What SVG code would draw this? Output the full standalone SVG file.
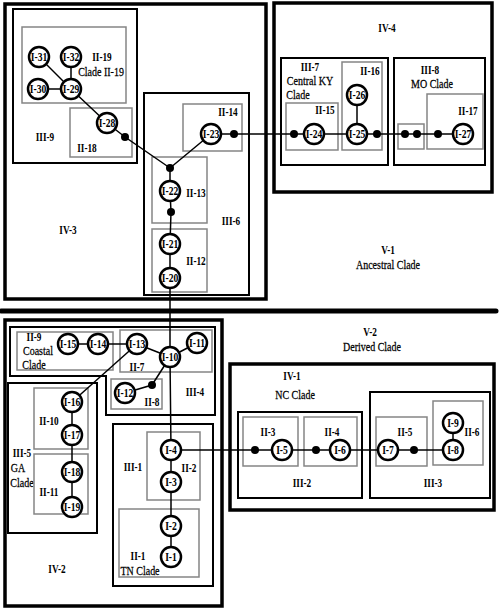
<svg xmlns="http://www.w3.org/2000/svg" width="500" height="610" viewBox="0 0 500 610">
<style>
.b4{fill:none;stroke:#000;stroke-width:3.5}
.b3{fill:none;stroke:#000;stroke-width:2}
.g2{fill:none;stroke:#858585;stroke-width:1.5}
.n circle{fill:#fff;stroke:#000;stroke-width:2.5}
.n text,.l{font-family:"Liberation Serif","Times New Roman",serif;font-weight:bold;font-size:12px;text-anchor:middle;fill:#000}
.c{font-family:"Liberation Serif","Times New Roman",serif;font-size:12.5px;text-anchor:middle;fill:#000;stroke:#000;stroke-width:0.25}
.e{stroke:#000;stroke-width:1.5;fill:none}
.d{fill:#000}
</style>
<rect width="500" height="610" fill="#fff"/>

<!-- containers -->
<g id="IV-3"><rect class="b4" x="5" y="4" width="261" height="295"/><text class="l" transform="translate(68,234) scale(.77,1)">IV-3</text></g>
<g id="III-9"><rect class="b3" x="13" y="9" width="124" height="154"/><text class="l" transform="translate(45,141) scale(.77,1)">III-9</text></g>
<g id="II-19"><rect class="g2" x="22" y="27" width="104" height="76"/><text class="l" transform="translate(102,61) scale(.77,1)">II-19</text><text class="c" transform="translate(101,76) scale(.8,1)">Clade II-19</text></g>
<g id="II-18"><rect class="g2" x="70" y="108" width="62" height="49"/><text class="l" transform="translate(87,152) scale(.77,1)">II-18</text></g>
<g id="III-6"><rect class="b3" x="144" y="93" width="105" height="202"/><text class="l" transform="translate(231,225) scale(.77,1)">III-6</text></g>
<g id="II-14"><rect class="g2" x="183" y="104" width="59" height="47"/><text class="l" transform="translate(228,116) scale(.77,1)">II-14</text></g>
<g id="II-13"><rect class="g2" x="152" y="157" width="55" height="66"/><text class="l" transform="translate(196,197) scale(.77,1)">II-13</text></g>
<g id="II-12"><rect class="g2" x="152" y="229" width="55" height="63"/><text class="l" transform="translate(196,265) scale(.77,1)">II-12</text></g>

<g id="IV-4"><rect class="b4" x="274" y="3" width="218" height="189"/><text class="l" transform="translate(387,32) scale(.77,1)">IV-4</text></g>
<g id="III-7"><rect class="b3" x="281" y="58" width="107" height="107"/><text class="l" transform="translate(310,71) scale(.77,1)">III-7</text><text class="c" transform="translate(310,85) scale(.8,1)">Central KY</text><text class="c" transform="translate(298,99) scale(.8,1)">Clade</text></g>
<g id="II-15"><rect class="g2" x="286" y="103" width="52" height="47"/><text class="l" transform="translate(325,114) scale(.77,1)">II-15</text></g>
<g id="II-16"><rect class="g2" x="342" y="62" width="40" height="88"/><text class="l" transform="translate(370,75) scale(.77,1)">II-16</text></g>
<g id="III-8"><rect class="b3" x="394" y="58" width="91" height="107"/><text class="l" transform="translate(430,74) scale(.77,1)">III-8</text><text class="c" transform="translate(432,88) scale(.8,1)">MO Clade</text></g>
<g id="III-8-sub"><rect class="g2" x="398" y="124" width="26" height="25"/></g>
<g id="II-17"><rect class="g2" x="427" y="94" width="56" height="55"/><text class="l" transform="translate(468,115) scale(.77,1)">II-17</text></g>

<g id="V-1"><text class="l" transform="translate(388,254) scale(.77,1)">V-1</text><text class="c" transform="translate(388,269) scale(.8,1)">Ancestral Clade</text></g>
<line x1="1" y1="311" x2="496" y2="311" stroke="#000" stroke-width="5" stroke-linecap="round"/>
<g id="V-2"><text class="l" transform="translate(370,336) scale(.77,1)">V-2</text><text class="c" transform="translate(372,351) scale(.8,1)">Derived Clade</text></g>

<g id="IV-2"><rect class="b4" x="5" y="320" width="217" height="286"/><text class="l" transform="translate(57,573) scale(.77,1)">IV-2</text></g>
<g id="III-4"><path class="b3" d="M10,327H215V415H106V376H10Z"/><text class="l" transform="translate(195,396) scale(.77,1)">III-4</text></g>
<g id="II-9"><rect class="g2" x="17" y="332" width="96" height="38"/><text class="l" transform="translate(34,341) scale(.77,1)">II-9</text><text class="c" transform="translate(38,355) scale(.8,1)">Coastal</text><text class="c" transform="translate(34,369) scale(.8,1)">Clade</text></g>
<g id="II-7"><rect class="g2" x="120" y="330" width="92" height="42"/><text class="l" transform="translate(137,371) scale(.77,1)">II-7</text></g>
<g id="II-8"><rect class="g2" x="111" y="379" width="51" height="30"/><text class="l" transform="translate(152,406) scale(.77,1)">II-8</text></g>
<g id="III-5"><rect class="b3" x="8" y="383" width="89" height="150"/><text class="l" transform="translate(22,457) scale(.77,1)">III-5</text><text class="c" transform="translate(18,472) scale(.8,1)">GA</text><text class="c" transform="translate(22,487) scale(.8,1)">Clade</text></g>
<g id="II-10"><rect class="g2" x="34" y="388" width="54" height="61"/><text class="l" transform="translate(49,425) scale(.77,1)">II-10</text></g>
<g id="II-11"><rect class="g2" x="34" y="454" width="54" height="60"/><text class="l" transform="translate(49,496) scale(.77,1)">II-11</text></g>
<g id="III-1"><rect class="b3" x="113" y="424" width="100" height="162"/><text class="l" transform="translate(133,471) scale(.77,1)">III-1</text></g>
<g id="II-2"><rect class="g2" x="147" y="432" width="53" height="68"/><text class="l" transform="translate(189,472) scale(.77,1)">II-2</text></g>
<g id="II-1"><rect class="g2" x="119" y="509" width="80" height="68"/><text class="l" transform="translate(138,560) scale(.77,1)">II-1</text><text class="c" transform="translate(140,575) scale(.8,1)">TN Clade</text></g>

<g id="IV-1"><rect class="b4" x="230" y="364" width="264" height="146"/><text class="l" transform="translate(292,380) scale(.77,1)">IV-1</text><text class="c" transform="translate(295,399) scale(.8,1)">NC Clade</text></g>
<g id="III-2"><rect class="b3" x="238" y="412" width="124" height="86"/><text class="l" transform="translate(302,487) scale(.77,1)">III-2</text></g>
<g id="III-3"><rect class="b3" x="370" y="392" width="120" height="106"/><text class="l" transform="translate(433,487) scale(.77,1)">III-3</text></g>
<g id="II-3"><rect class="g2" x="243" y="417" width="55" height="49"/><text class="l" transform="translate(268,436) scale(.77,1)">II-3</text></g>
<g id="II-4"><rect class="g2" x="304" y="417" width="53" height="49"/><text class="l" transform="translate(332,436) scale(.77,1)">II-4</text></g>
<g id="II-5"><rect class="g2" x="376" y="417" width="51" height="49"/><text class="l" transform="translate(405,436) scale(.77,1)">II-5</text></g>
<g id="II-6"><rect class="g2" x="433" y="401" width="50" height="64"/><text class="l" transform="translate(472,436) scale(.77,1)">II-6</text></g>

<!-- connectors -->
<g id="connectors" class="e">
<line x1="39" y1="57" x2="71" y2="89"/>
<line x1="71" y1="57" x2="71" y2="89"/>
<line x1="38" y1="89" x2="71" y2="89"/>
<polyline points="71,89 107,123 125,137 170,168"/>
<polyline points="211,134 170,168 170,191 171,212 170,244 170,278 170,357 171,450"/>
<polyline points="211,134 463,134"/>
<line x1="357" y1="95" x2="357" y2="134"/>
<line x1="68" y1="344" x2="137" y2="344"/>
<line x1="137" y1="344" x2="170" y2="357"/>
<line x1="170" y1="357" x2="197" y2="343"/>
<polyline points="170,357 152,385 125,393"/>
<line x1="137" y1="344" x2="72" y2="402"/>
<line x1="72" y1="402" x2="72" y2="507"/>
<line x1="171" y1="450" x2="171" y2="557"/>
<line x1="171" y1="450" x2="453" y2="450"/>
<line x1="453" y1="423" x2="453" y2="450"/>
</g>

<g id="junctions" class="d">
<circle cx="125" cy="137" r="4"/>
<circle cx="170" cy="168" r="4"/>
<circle cx="171" cy="212" r="4"/>
<circle cx="234" cy="134" r="4"/>
<circle cx="294" cy="134" r="4"/>
<circle cx="377" cy="134" r="4"/>
<circle cx="405" cy="134" r="4"/>
<circle cx="417" cy="134" r="4"/>
<circle cx="438" cy="134" r="4"/>
<circle cx="152" cy="385" r="4"/>
<circle cx="255" cy="450" r="4"/>
<circle cx="316" cy="450" r="4"/>
<circle cx="414" cy="450" r="4"/>
</g>

<!-- haplotype nodes -->
<g id="I-31" class="n"><circle cx="39" cy="57" r="10"/><text transform="translate(39,61) scale(.8,1)">I-31</text></g>
<g id="I-32" class="n"><circle cx="71" cy="57" r="10"/><text transform="translate(71,61) scale(.8,1)">I-32</text></g>
<g id="I-30" class="n"><circle cx="38" cy="89" r="10"/><text transform="translate(38,93) scale(.8,1)">I-30</text></g>
<g id="I-29" class="n"><circle cx="71" cy="89" r="10"/><text transform="translate(71,93) scale(.8,1)">I-29</text></g>
<g id="I-28" class="n"><circle cx="107" cy="123" r="10"/><text transform="translate(107,127) scale(.8,1)">I-28</text></g>
<g id="I-23" class="n"><circle cx="211" cy="134" r="10"/><text transform="translate(211,138) scale(.8,1)">I-23</text></g>
<g id="I-22" class="n"><circle cx="170" cy="191" r="10"/><text transform="translate(170,195) scale(.8,1)">I-22</text></g>
<g id="I-21" class="n"><circle cx="170" cy="244" r="10"/><text transform="translate(170,248) scale(.8,1)">I-21</text></g>
<g id="I-20" class="n"><circle cx="170" cy="278" r="10"/><text transform="translate(170,282) scale(.8,1)">I-20</text></g>
<g id="I-24" class="n"><circle cx="314" cy="134" r="10"/><text transform="translate(314,138) scale(.8,1)">I-24</text></g>
<g id="I-25" class="n"><circle cx="357" cy="134" r="10"/><text transform="translate(357,138) scale(.8,1)">I-25</text></g>
<g id="I-26" class="n"><circle cx="357" cy="95" r="10"/><text transform="translate(357,99) scale(.8,1)">I-26</text></g>
<g id="I-27" class="n"><circle cx="463" cy="134" r="10"/><text transform="translate(463,138) scale(.8,1)">I-27</text></g>
<g id="I-15" class="n"><circle cx="68" cy="344" r="10"/><text transform="translate(68,348) scale(.8,1)">I-15</text></g>
<g id="I-14" class="n"><circle cx="98" cy="344" r="10"/><text transform="translate(98,348) scale(.8,1)">I-14</text></g>
<g id="I-13" class="n"><circle cx="137" cy="344" r="10"/><text transform="translate(137,348) scale(.8,1)">I-13</text></g>
<g id="I-10" class="n"><circle cx="170" cy="357" r="10"/><text transform="translate(170,361) scale(.8,1)">I-10</text></g>
<g id="I-11" class="n"><circle cx="197" cy="343" r="10"/><text transform="translate(197,347) scale(.8,1)">I-11</text></g>
<g id="I-12" class="n"><circle cx="125" cy="393" r="10"/><text transform="translate(125,397) scale(.8,1)">I-12</text></g>
<g id="I-16" class="n"><circle cx="72" cy="402" r="10"/><text transform="translate(72,406) scale(.8,1)">I-16</text></g>
<g id="I-17" class="n"><circle cx="72" cy="435" r="10"/><text transform="translate(72,439) scale(.8,1)">I-17</text></g>
<g id="I-18" class="n"><circle cx="72" cy="472" r="10"/><text transform="translate(72,476) scale(.8,1)">I-18</text></g>
<g id="I-19" class="n"><circle cx="72" cy="507" r="10"/><text transform="translate(72,511) scale(.8,1)">I-19</text></g>
<g id="I-4" class="n"><circle cx="171" cy="450" r="10"/><text transform="translate(171,454) scale(.8,1)">I-4</text></g>
<g id="I-3" class="n"><circle cx="171" cy="482" r="10"/><text transform="translate(171,486) scale(.8,1)">I-3</text></g>
<g id="I-2" class="n"><circle cx="171" cy="526" r="10"/><text transform="translate(171,530) scale(.8,1)">I-2</text></g>
<g id="I-1" class="n"><circle cx="171" cy="557" r="10"/><text transform="translate(171,561) scale(.8,1)">I-1</text></g>
<g id="I-5" class="n"><circle cx="282" cy="450" r="10"/><text transform="translate(282,454) scale(.8,1)">I-5</text></g>
<g id="I-6" class="n"><circle cx="340" cy="450" r="10"/><text transform="translate(340,454) scale(.8,1)">I-6</text></g>
<g id="I-7" class="n"><circle cx="388" cy="450" r="10"/><text transform="translate(388,454) scale(.8,1)">I-7</text></g>
<g id="I-8" class="n"><circle cx="453" cy="450" r="10"/><text transform="translate(453,454) scale(.8,1)">I-8</text></g>
<g id="I-9" class="n"><circle cx="453" cy="423" r="10"/><text transform="translate(453,427) scale(.8,1)">I-9</text></g>
</svg>
